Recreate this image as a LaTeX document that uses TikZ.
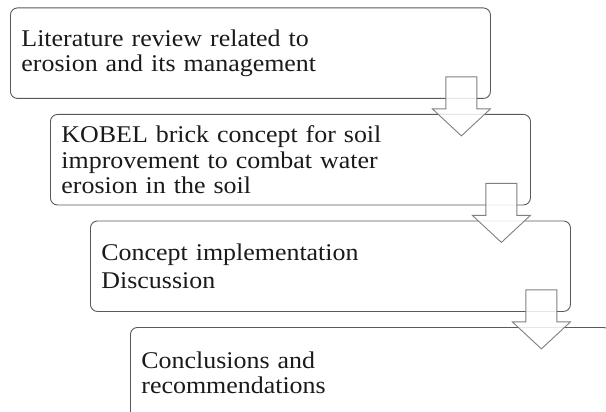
\documentclass[tikz,border=0pt]{standalone}
\usepackage{fontspec}
\setmainfont{Liberation Serif}[FakeStretch=1.08]
\usetikzlibrary{calc}
\definecolor{boxline}{HTML}{5A5A5A}
\definecolor{arrline}{HTML}{808080}
\definecolor{txt}{HTML}{1A1A1A}
\tikzset{
  stepbox/.style={draw=boxline, line width=0.9pt, rounded corners=7pt, fill=white,
    anchor=north west, minimum width=480pt, minimum height=90.5pt,
    text width=458pt, inner xsep=11pt, inner ysep=0pt, align=left,
    text=txt, font=\fontsize{24}{25.5}\selectfont},
  blockarrow/.style={draw=arrline, line width=0.9pt, fill=white, fill opacity=0.85, line join=miter}
}
\newcommand{\flowarrow}[1]{%
  \draw[blockarrow] ($(#1.south east)+(-45,-22)$) -- ($(#1.south east)+(-14,-22)$)
    -- ($(#1.south east)+(-14,10)$) -- ($(#1.south east)+(-0.5,10)$)
    -- ($(#1.south east)+(-29.5,37)$) -- ($(#1.south east)+(-58.5,10)$)
    -- ($(#1.south east)+(-45,10)$) -- cycle;}
\begin{document}
\begin{tikzpicture}[x=1pt,y=-1pt]
\useasboundingbox (0,0) rectangle (606,412);
\fill[white] (0,0) rectangle (606,412);
\clip (0,0) rectangle (606,412);
\node[stepbox] (b1) at (10,7.5) {Literature review related to\\erosion and its management};
\node[stepbox] (b2) at (50,114) {KOBEL brick concept for soil\\improvement to combat water\\erosion in the soil};
\node[stepbox] (b3) at (90,220.5) {Concept implementation\\[2.5pt]Discussion};
\node[stepbox] (b4) at (130,327) {Conclusions and\\recommendations};
\flowarrow{b1}
\flowarrow{b2}
\flowarrow{b3}
\end{tikzpicture}
\end{document}
